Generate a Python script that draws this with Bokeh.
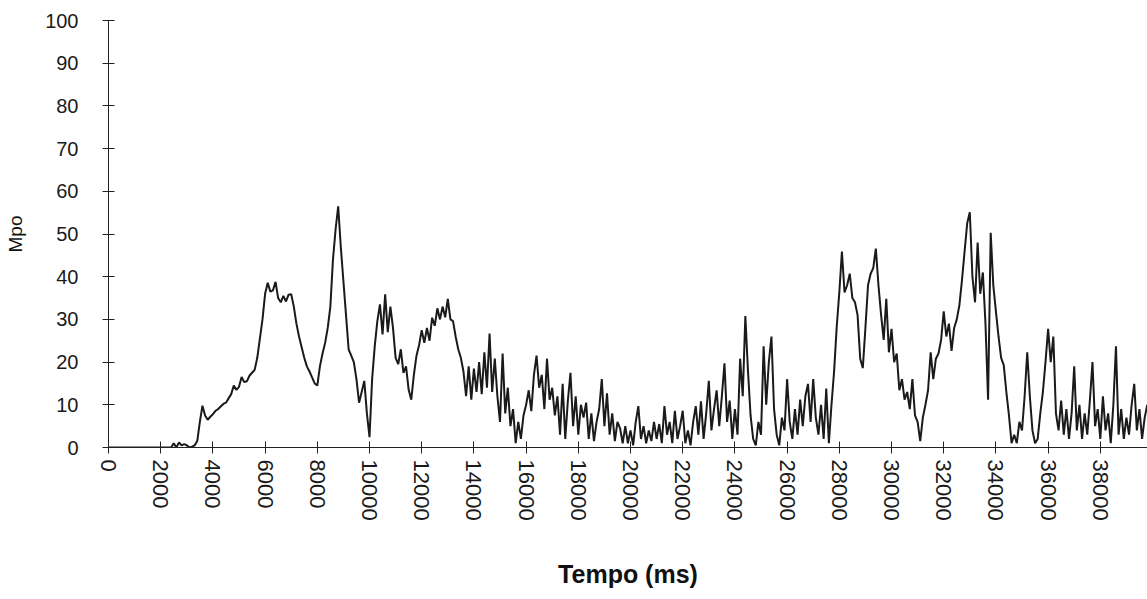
import numpy as np
from bokeh.plotting import figure
from bokeh.models import Range1d, FixedTicker
from bokeh.embed import file_html
from bokeh.resources import INLINE

# Sample interval of the recorded signal (ms)
sample_interval_ms = 100

# Mpo values, one per 100 ms (each row = 1 s)
mpo_values = [
    0, 0, 0, 0, 0, 0, 0, 0, 0, 0,                               # 0 s
    0, 0, 0, 0, 0, 0, 0, 0, 0, 0,                               # 1 s
    0, 0, 0, 0, 0, 1, 0, 1.2, 0.5, 0.8,                         # 2 s
    0.5, 0, 0.2, 0.5, 1.5, 6, 9.8, 7.5, 6.5, 7.2,               # 3 s
    7.8, 8.6, 9, 9.6, 10.2, 10.5, 11.5, 12.5, 14.5, 13.5,       # 4 s
    14.2, 16.5, 15.3, 15.5, 16.8, 17.5, 18.2, 21, 25.5, 30,     # 5 s
    36, 38.6, 36.5, 36.8, 38.8, 35, 34, 35.5, 34.2, 35.8,       # 6 s
    35.9, 33, 29, 26, 23.5, 21, 19, 17.8, 16.4, 15,             # 7 s
    14.5, 19, 22, 24.5, 28, 33, 44, 51, 56.5, 47,               # 8 s
    39, 31, 23, 21.5, 20, 16, 10.5, 13, 15.6, 8,                # 9 s
    2.4, 16, 23.7, 29.6, 33.5, 26.5, 35.9, 27, 33, 28,          # 10 s
    21, 19.5, 23, 17.5, 19, 13.5, 11.2, 17, 21.5, 24,           # 11 s
    27.5, 24.5, 28, 25, 30.4, 28.5, 32.6, 30, 33, 30.5,         # 12 s
    34.8, 30, 29.6, 26, 23, 21, 17.8, 12, 19, 11.2,             # 13 s
    18.5, 13, 20, 12.5, 22.3, 14, 26.7, 13, 20.8, 12,           # 14 s
    6, 22, 8, 14, 5, 9, 1, 6, 2, 7.5,                           # 15 s
    10, 13.4, 8.5, 17, 21.5, 14, 17, 9, 20.8, 11.2,             # 16 s
    14, 7.5, 12, 3, 14.9, 2, 11, 17.5, 5, 12,                   # 17 s
    3, 10, 7, 10.5, 2, 8, 1.5, 6, 9, 16,                        # 18 s
    5, 12.7, 3, 8, 1.5, 6, 4.5, 1, 5, 1,                        # 19 s
    4, 0.5, 6, 9.7, 2, 5, 1, 4, 1.5, 6,                         # 20 s
    2, 5.5, 1, 9.7, 3, 6, 1, 8.6, 2, 5,                         # 21 s
    8.6, 1, 4, 0.5, 6, 9.7, 3, 10.8, 2, 8,                      # 22 s
    15.6, 4, 9, 13.4, 5, 12, 19.7, 6, 11, 2,                    # 23 s
    9, 3, 20.8, 12, 30.8, 18, 7.5, 2, 0.5, 6,                   # 24 s
    3, 23.7, 10, 20, 26, 9, 3, 0.5, 7, 4,                       # 25 s
    16, 6, 2, 9, 3, 11.2, 5, 12, 14.9, 6,                       # 26 s
    16, 7, 3, 10, 2, 13.8, 1, 10, 17.8, 28.2,                   # 27 s
    36.3, 45.9, 36.3, 38, 40.7, 35, 34, 31, 20.8, 18.6,         # 28 s
    28, 38, 40.7, 42, 46.6, 38, 31.1, 25.2, 34.8, 22.3,         # 29 s
    27.8, 20, 22, 13.4, 16, 11.2, 13, 9, 16, 7.5,               # 30 s
    6, 1.5, 7, 10, 13.4, 22.3, 16, 20.8, 22, 25.2,              # 31 s
    31.9, 26, 29, 22.6, 28, 30, 33.3, 39.2, 45.9, 52.5,         # 32 s
    55.1, 40, 34, 48, 36, 41, 29, 11.2, 50.3, 38,               # 33 s
    31.9, 26, 21, 19.3, 13, 7.5, 1, 3, 1, 6,                    # 34 s
    4, 12, 22.3, 12, 4, 1, 2, 8, 13, 20,                        # 35 s
    27.8, 20, 26, 8, 4, 11, 3, 9, 2, 8,                         # 36 s
    19, 4, 10, 2, 8, 3, 11, 20, 5, 9,                           # 37 s
    2, 12, 4, 8, 1, 10, 23.7, 3, 9, 2,                          # 38 s
    7, 3, 10, 14.9, 4, 9, 2, 7, 10,                             # 39 s
]

time_ms = np.arange(len(mpo_values)) * sample_interval_ms

x_ticks = list(range(0, 40000, 2000))
y_ticks = list(range(0, 101, 10))

p = figure(
    width=1147, height=599,
    output_backend="svg", toolbar_location=None,
    x_range=Range1d(0, 39808), y_range=Range1d(0, 100),
    min_border_left=108, min_border_right=0,
    min_border_top=20, min_border_bottom=152,
)
p.outline_line_color = None
p.background_fill_color = "white"
p.border_fill_color = "white"
p.grid.visible = False

p.line(time_ms, mpo_values, line_color="#1a1a1a", line_width=2)

font = "Liberation Sans"
for ax in (p.xaxis[0], p.yaxis[0]):
    ax.axis_line_color = "#222222"
    ax.axis_line_width = 1
    ax.major_tick_line_color = "#222222"
    ax.major_tick_in = 6
    ax.major_tick_out = 6
    ax.minor_tick_line_color = None
    ax.major_label_text_color = "#1a1a1a"
    ax.major_label_text_font = font
    ax.axis_label_text_font = font
    ax.axis_label_text_color = "#111111"

p.xaxis.ticker = FixedTicker(ticks=x_ticks)
p.yaxis.ticker = FixedTicker(ticks=y_ticks)

p.xaxis.major_label_orientation = "vertical"
p.xaxis.major_label_text_font_size = "22px"
p.xaxis.major_label_standoff = 6

p.yaxis.major_label_text_font_size = "20px"
p.yaxis.major_label_standoff = 24

p.xaxis.axis_label = "Tempo (ms)"
p.xaxis.axis_label_text_font_style = "bold"
p.xaxis.axis_label_text_font_size = "25px"
p.xaxis.axis_label_standoff = 36

p.yaxis.axis_label = "Mpo"
p.yaxis.axis_label_text_font_style = "normal"
p.yaxis.axis_label_text_font_size = "19px"
p.yaxis.axis_label_standoff = 16

open("out.html", "w").write(file_html(p, INLINE))
